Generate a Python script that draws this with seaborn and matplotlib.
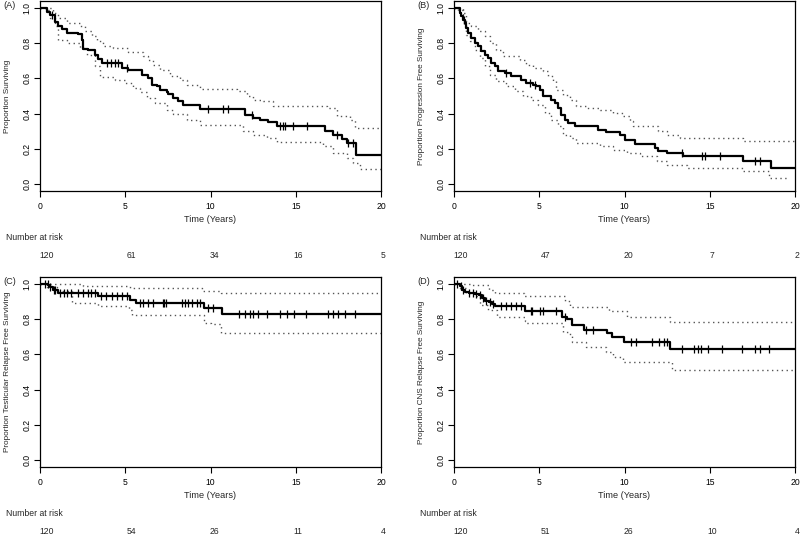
import numpy as np
import pandas as pd
import matplotlib
matplotlib.use("Agg")
import matplotlib.pyplot as plt
import seaborn as sns

sns.set_style("white")
plt.rcParams['font.family'] = ['Liberation Sans', 'DejaVu Sans']

# ---- data ----
risk_times = [0, 5, 10, 15, 20]

# (A) overall survival
a_t = [0, 0.39, 0.59, 0.88, 1.08, 1.27, 1.56, 2.25, 2.44, 2.54, 2.83, 3.23, 3.42, 3.62,
       4.79, 5.18, 5.96, 6.35, 6.55, 6.84, 7.04, 7.43, 7.53, 7.82, 8.11, 8.41, 9.38,
       12.02, 12.51, 12.9, 13.39, 13.88, 16.72, 17.2, 17.69, 17.99, 18.53, 20]
a_s = [1.0, 0.98, 0.96, 0.92, 0.90, 0.88, 0.86, 0.85, 0.82, 0.77, 0.76, 0.735, 0.71, 0.69,
       0.66, 0.65, 0.62, 0.60, 0.565, 0.555, 0.535, 0.525, 0.51, 0.49, 0.47, 0.45, 0.428,
       0.39, 0.375, 0.365, 0.355, 0.33, 0.30, 0.28, 0.255, 0.233, 0.167, 0.167]
a_up_t = [0, 0.39, 0.78, 1.08, 1.56, 2.35, 2.64, 3.03, 3.32, 3.71, 4.3, 5.18, 6.06, 6.35,
          6.65, 7.04, 7.62, 8.21, 8.6, 9.38, 11.53, 12.12, 12.51, 13.1, 13.69, 16.81,
          17.4, 18.18, 18.47, 20]
a_up_s = [1.0, 1.0, 0.972, 0.943, 0.915, 0.896, 0.867, 0.839, 0.811, 0.782, 0.773, 0.748,
          0.725, 0.706, 0.678, 0.65, 0.612, 0.593, 0.565, 0.54, 0.527, 0.5, 0.479, 0.47,
          0.445, 0.432, 0.385, 0.366, 0.318, 0.318]
a_lo_t = [0, 0.39, 0.59, 0.88, 1.08, 1.56, 2.35, 2.74, 3.23, 3.52, 4.4, 4.99, 5.47, 5.87,
          6.26, 6.74, 7.43, 7.82, 8.6, 9.38, 11.93, 12.51, 13.29, 13.88, 16.62, 17.2,
          17.99, 18.38, 18.77, 20]
a_lo_s = [1.0, 0.99, 0.943, 0.90, 0.82, 0.80, 0.773, 0.735, 0.67, 0.61, 0.59, 0.575, 0.545,
          0.52, 0.49, 0.46, 0.42, 0.40, 0.365, 0.335, 0.30, 0.28, 0.26, 0.24, 0.215, 0.175,
          0.15, 0.12, 0.085, 0.085]
a_cens = [0.7, 3.91, 4.16, 4.40, 4.59, 5.08, 9.87, 10.75, 11.0, 12.41, 14.08, 14.23,
          14.39, 14.86, 15.64, 17.4, 18.08, 18.38]
a_risk = [120, 61, 34, 16, 5]

# (B) progression free survival
b_t = [0, 0.33, 0.43, 0.53, 0.63, 0.72, 0.82, 1.02, 1.21, 1.41, 1.6, 1.8, 2.0, 2.19, 2.39,
       2.58, 2.97, 3.37, 3.95, 4.25, 4.64, 4.83, 5.03, 5.23, 5.71, 5.91, 6.11, 6.3, 6.5,
       6.69, 7.08, 8.45, 8.94, 9.73, 10.02, 10.61, 11.78, 11.98, 12.47, 13.41, 16.93,
       18.59, 20]
b_s = [1.0, 0.97, 0.955, 0.934, 0.915, 0.886, 0.858, 0.83, 0.801, 0.782, 0.754, 0.735,
       0.716, 0.688, 0.669, 0.64, 0.631, 0.612, 0.593, 0.574, 0.564, 0.555, 0.536, 0.498,
       0.479, 0.46, 0.432, 0.394, 0.366, 0.347, 0.328, 0.309, 0.294, 0.28, 0.25, 0.228,
       0.205, 0.186, 0.176, 0.157, 0.13, 0.09, 0.09]
b_up_t = [0, 0.23, 0.53, 0.72, 1.02, 1.41, 1.8, 2.09, 2.49, 2.88, 3.86, 4.25, 4.64, 5.23,
          5.52, 5.81, 6.01, 6.4, 6.79, 7.18, 7.77, 8.55, 9.33, 9.92, 10.31, 10.51, 11.98,
          12.47, 13.25, 16.97, 20]
b_up_s = [1.0, 1.0, 0.972, 0.915, 0.896, 0.867, 0.839, 0.801, 0.763, 0.725, 0.706, 0.678,
          0.659, 0.64, 0.612, 0.584, 0.536, 0.508, 0.48, 0.441, 0.432, 0.422, 0.403, 0.384,
          0.356, 0.331, 0.30, 0.28, 0.26, 0.244, 0.244]
b_lo_t = [0, 0.23, 0.53, 0.72, 0.92, 1.21, 1.51, 1.8, 2.09, 2.49, 3.07, 3.56, 4.05, 4.54,
          4.93, 5.32, 5.71, 6.11, 6.4, 6.79, 7.18, 8.55, 9.33, 10.12, 10.9, 11.88, 12.47,
          13.64, 16.97, 18.49, 19.6]
b_lo_s = [1.0, 0.99, 0.915, 0.848, 0.81, 0.763, 0.716, 0.669, 0.621, 0.583, 0.555, 0.527,
          0.498, 0.479, 0.451, 0.403, 0.366, 0.328, 0.28, 0.26, 0.233, 0.214, 0.195, 0.176,
          0.157, 0.129, 0.11, 0.091, 0.072, 0.034, 0.034]
b_cens = [0.6, 3.03, 4.44, 4.74, 13.35, 14.52, 14.72, 15.6, 17.65, 17.95]
b_risk = [120, 47, 20, 7, 2]

# (C) testicular relapse free survival
c_t = [0, 0.47, 0.57, 0.76, 1.06, 2.03, 3.4, 5.3, 5.65, 9.6, 10.65, 20]
c_s = [1.0, 0.992, 0.981, 0.968, 0.949, 0.949, 0.93, 0.91, 0.891, 0.863, 0.83, 0.83]
c_up_t = [0, 2.5, 5.3, 9.5, 10.6, 20]
c_up_s = [1.0, 0.99, 0.975, 0.962, 0.947, 0.947]
c_lo_t = [0, 0.4, 1.0, 1.9, 3.4, 5.2, 5.4, 9.6, 10.0, 10.6, 20]
c_lo_s = [1.0, 0.985, 0.962, 0.894, 0.878, 0.85, 0.823, 0.778, 0.775, 0.72, 0.72]
c_cens = [0.3, 0.45, 0.6, 0.8, 0.9, 1.2, 1.4, 1.6, 1.8, 2.2, 2.5, 2.8, 3.0, 3.2, 3.6,
          3.9, 4.2, 4.5, 4.8, 5.1, 5.85, 6.04, 6.33, 6.63, 7.2, 7.3, 7.4, 8.3, 8.5, 8.7,
          8.9, 9.2, 9.4, 9.85, 10.15, 11.7, 12.0, 12.3, 12.5, 12.8, 13.3, 14.1, 14.5,
          14.9, 15.6, 16.9, 17.2, 17.5, 17.9, 18.5]
c_risk = [120, 54, 26, 11, 4]

# (D) CNS relapse free survival
d_t = [0, 0.37, 0.47, 0.66, 0.86, 1.25, 1.45, 1.64, 1.84, 2.03, 2.23, 2.42, 4.18, 6.33,
       6.63, 6.92, 7.6, 8.97, 9.27, 9.95, 12.69, 20]
d_s = [1.0, 0.987, 0.968, 0.954, 0.949, 0.945, 0.94, 0.92, 0.905, 0.897, 0.886, 0.878,
       0.847, 0.815, 0.80, 0.77, 0.74, 0.72, 0.70, 0.67, 0.633, 0.633]
d_up_t = [0, 1.06, 2.03, 2.42, 4.09, 6.53, 6.82, 9.07, 10.15, 12.69, 20]
d_up_s = [1.0, 0.996, 0.968, 0.948, 0.93, 0.905, 0.872, 0.844, 0.81, 0.787, 0.787]
d_lo_t = [0, 0.37, 0.7, 1.2, 1.5, 2.0, 2.5, 4.15, 4.25, 6.4, 6.8, 6.9, 7.77, 8.94, 9.33,
          9.92, 12.76, 20]
d_lo_s = [1.0, 0.977, 0.948, 0.93, 0.88, 0.85, 0.815, 0.79, 0.777, 0.729, 0.71, 0.672,
          0.644, 0.616, 0.587, 0.559, 0.511, 0.511]
d_cens = [0.2, 0.4, 0.5, 0.9, 1.1, 1.3, 1.5, 1.7, 1.9, 2.1, 2.3, 2.78, 3.07, 3.37, 3.66,
          3.95, 4.54, 4.6, 5.03, 5.23, 6.0, 6.5, 7.77, 8.16, 10.4, 10.7, 11.6, 12.0, 12.3,
          12.5, 13.35, 14.1, 14.3, 14.5, 14.9, 15.7, 16.9, 17.65, 17.95, 18.5]
d_risk = [120, 51, 26, 10, 4]

panels = [
    ("(A)", "Proportion Surviving", a_t, a_s, a_up_t, a_up_s, a_lo_t, a_lo_s, a_cens, a_risk),
    ("(B)", "Proportion Progression Free Surviving", b_t, b_s, b_up_t, b_up_s, b_lo_t, b_lo_s, b_cens, b_risk),
    ("(C)", "Proportion Testicular Relapse Free Surviving", c_t, c_s, c_up_t, c_up_s, c_lo_t, c_lo_s, c_cens, c_risk),
    ("(D)", "Proportion CNS Relapse Free Surviving", d_t, d_s, d_up_t, d_up_s, d_lo_t, d_lo_s, d_cens, d_risk),
]

# axes boxes in pixels (left, top) of an 800x535 canvas
W, H = 800, 535
boxes = [(40, 1), (454, 1), (40, 277), (454, 277)]
bw, bh = 341, 190
px = 0.72  # pixels -> points at 100 dpi
risk_dx = [7, 6, 4, 2, 2]  # small horizontal nudges of the at-risk numbers (px)

fig = plt.figure(figsize=(8, 5.35), dpi=100)
fs = 6.2

for (lab, ylab, t, s, ut, us, lt, ls, cens, risk), (bx, by) in zip(panels, boxes):
    ax = fig.add_axes([bx / W, (H - by - bh) / H, bw / W, bh / H])

    sns.lineplot(x=ut, y=us, drawstyle="steps-post", estimator=None, sort=False,
                 color="#555555", lw=1.0, linestyle=(0, (1, 2.5)), ax=ax)
    sns.lineplot(x=lt, y=ls, drawstyle="steps-post", estimator=None, sort=False,
                 color="#555555", lw=1.0, linestyle=(0, (1, 2.5)), ax=ax)
    sns.lineplot(x=t, y=s, drawstyle="steps-post", estimator=None, sort=False,
                 color="black", lw=1.6, ax=ax)

    ta = np.array(t)
    sa = np.array(s)
    cy = sa[np.searchsorted(ta, cens, side="right") - 1]
    cdf = pd.DataFrame({"time": cens, "surv": cy})
    sns.scatterplot(data=cdf, x="time", y="surv", marker="|", s=26, color="black",
                    linewidth=0.9, ax=ax, zorder=5)

    ax.set_xlim(0, 20)
    ax.set_ylim(-0.04, 1.04)
    ax.set_xticks(risk_times)
    ax.set_yticks([0, 0.2, 0.4, 0.6, 0.8, 1.0])
    ax.set_yticklabels(["0.0", "0.2", "0.4", "0.6", "0.8", "1.0"], rotation=90, va="center")
    ax.tick_params(direction="out", length=4, width=0.8, labelsize=fs, pad=2,
                   bottom=True, left=True, colors="black")
    ax.tick_params(axis="x", pad=4)
    for sp in ax.spines.values():
        sp.set_visible(True)
        sp.set_color("black")
        sp.set_linewidth(0.9)

    ax.set_xlabel("Time (Years)", fontsize=6.6)
    ax.xaxis.set_label_coords(0.5, -24 / bh)
    ax.set_ylabel(ylab, fontsize=5.9)
    ax.yaxis.set_label_coords(-29 / bw, 0.5)

    ax.annotate(lab, xy=(0, 1), xycoords="axes fraction", xytext=(-37 * px, -5 * px),
                textcoords="offset points", ha="left", va="center", fontsize=6.6)
    ax.annotate("Number at risk", xy=(0, 0), xycoords="axes fraction",
                xytext=(-34 * px, -47 * px), textcoords="offset points",
                ha="left", va="center", fontsize=fs)
    for rt, n, dx in zip(risk_times, risk, risk_dx):
        ax.annotate(str(n), xy=(rt, 0), xycoords=("data", "axes fraction"),
                    xytext=(dx * px, -65 * px), textcoords="offset points",
                    ha="center", va="center", fontsize=fs, annotation_clip=False)

fig.savefig("out.png", dpi=100)
